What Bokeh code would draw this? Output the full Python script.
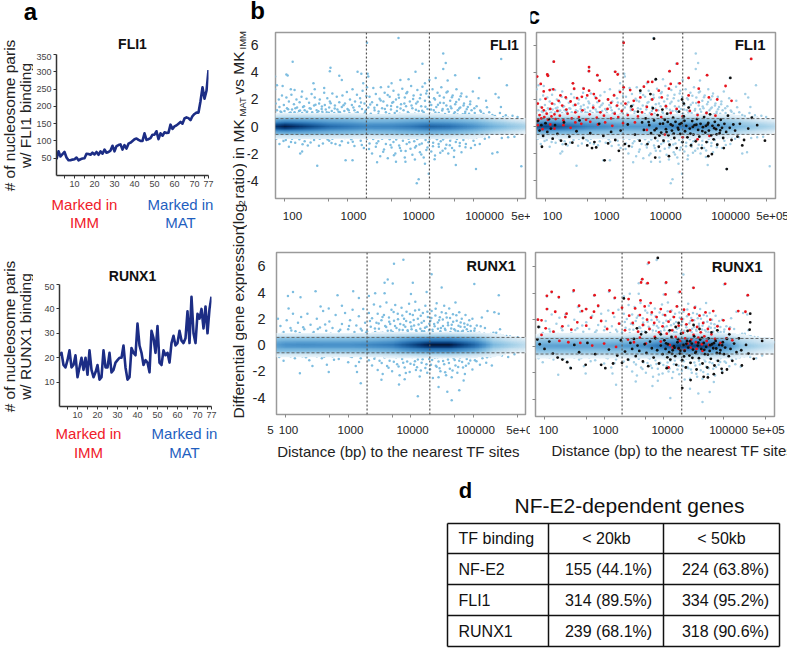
import numpy as np
from bokeh.plotting import figure
from bokeh.layouts import row, column
from bokeh.models import Range1d, FixedTicker, Label, Span, LinearColorMapper, Spacer
from bokeh.embed import file_html
from bokeh.resources import INLINE
from bokeh.core.properties import value

FONT = "Liberation Sans"

# ---------- panel a ----------
POSITION = list(range(1, 78))
FLI1_PAIRS = [47,70,55,62,68,52,44,44,46,47,52,44,47,49,50,63,62,60,66,61,68,60,70,63,75,66,68,72,86,70,85,88,90,75,88,78,92,
              95,100,105,107,103,100,100,122,103,105,108,118,118,128,105,122,115,125,123,124,147,135,142,145,150,155,150,165,168,166,160,172,178,182,182,215,255,222,245,305]
RUNX1_PAIRS = [21,22,17,16,19,23,16,17,21,12,16,20,15,20,13,23,15,12,14,17,11,12,23,16,16,22,14,15,18,19,
               20,20,25,16,11,12,24,22,21,34,25,22,17,19,18,14,31,28,22,33,18,17,23,21,22,18,26,29,25,26,
               31,27,26,28,39,26,45,30,26,38,36,40,32,41,30,40,45]
POS_TICKS = [5,10,15,20,25,30,35,40,45,50,55,60,65,70,75,77]
POS_LABELS = ["","10","","20","","30","","40","","50","","60","","70","","77"]

# ---------- panels b, c ----------
DIST_TICKS = [100,500,1000,5000,10000,50000,100000,500000]
DIST_LABELS = ["100","1000","10000","100000","5e+05"]
LOGFC_TICKS = [-4,-2,0,2,4,6]
WINDOWS = [2000,20000]
FC_CUT = [-0.585,0.585]

# smoothed density of the gene cloud: rows = log2 ratio, columns = log10 distance
DENS_LOGX = [1.85,2.0,2.3,2.7,3.0,3.3,3.7,4.0,4.3,4.6,5.0,5.3,5.6,5.85]
DENS_Y = [-1.0,-.7,-.55,-.3,-.15,0,.15,.3,.55,.7,1.0]
FLI1_DENS = [
 [0,0,0,0,0,0,0,0,0,0,0,0,0,0],
 [.04,.04,.05,.04,.04,.03,.04,.05,.05,.04,.02,0,0,0],
 [.20,.22,.22,.20,.18,.16,.17,.19,.21,.19,.13,.06,.02,0],
 [.40,.45,.40,.32,.29,.25,.26,.30,.33,.30,.22,.13,.07,.03],
 [.68,.78,.65,.48,.43,.37,.38,.42,.50,.46,.32,.20,.13,.08],
 [.85,.95,.80,.58,.50,.43,.44,.50,.62,.55,.38,.25,.16,.10],
 [.68,.78,.65,.48,.43,.37,.38,.42,.50,.46,.32,.20,.13,.08],
 [.42,.50,.45,.35,.32,.27,.28,.32,.35,.32,.24,.15,.08,.04],
 [.24,.27,.26,.24,.22,.18,.19,.21,.23,.21,.15,.07,.02,.01],
 [.06,.07,.08,.07,.07,.05,.05,.06,.06,.05,.04,.01,0,0],
 [0,0,0,0,0,0,0,0,0,0,0,0,0,0]]
RUNX1_DENS = [
 [0,0,0,0,0,0,0,0,0,0,0,0,0,0],
 [.03,.03,.03,.03,.03,.04,.06,.08,.10,.10,.06,.02,0,0],
 [.15,.16,.16,.16,.16,.17,.21,.28,.34,.34,.23,.07,.02,.01],
 [.24,.25,.25,.25,.25,.26,.31,.43,.53,.53,.36,.12,.05,.03],
 [.30,.34,.35,.34,.34,.36,.42,.62,.82,.82,.52,.18,.10,.05],
 [.33,.38,.40,.38,.38,.42,.50,.72,.98,.98,.60,.22,.12,.06],
 [.30,.34,.35,.34,.34,.36,.42,.62,.82,.82,.52,.18,.10,.05],
 [.24,.26,.26,.26,.26,.27,.32,.45,.55,.55,.38,.13,.06,.03],
 [.16,.17,.17,.17,.17,.18,.22,.30,.36,.36,.25,.08,.03,.01],
 [.03,.04,.04,.04,.04,.05,.07,.09,.11,.11,.07,.02,0,0],
 [0,0,0,0,0,0,0,0,0,0,0,0,0,0]]

# (log10 distance, log2 ratio)
FLI1_BLUE = [(1.85,3.7),(1.85,2.75),(1.88,3.05),(1.97,3.0),(2.03,3.85),(2.05,3.78),(2.13,4.8),(2.10,2.75),(2.16,2.7),(2.28,2.6),(2.46,3.2),(2.48,2.75),(2.63,2.85),(2.73,4.35),(2.72,4.1),(2.87,3.75),(2.91,3.45),(3.16,4.05),(3.22,3.9),(3.31,6.2),(3.32,3.9),(3.33,3.7),(3.25,3.2),(3.31,2.9),(3.81,6.55),(4.08,4.05),(4.19,4.65),(4.52,5.4),(4.56,4.7),(4.52,4.25),(4.71,3.8),(5.09,3.6),(5.44,5.0),(5.53,3.05),(4.4,3.6),(4.3,3.45),(4.23,3.2),(4.59,3.4),(3.84,3.45),(3.97,3.5),(3.7,3.2),
 (2.52,-2.9),(4.1,-4.2),(4.13,-3.9),(4.29,-3.5),(5.76,-2.95),(5.04,-3.15),(4.72,-2.85),(3.47,-2.65),(3.77,-2.6),(3.92,-2.6),(2.97,-2.5),(3.08,-2.5),(2.28,-1.85),(2.25,-2.0),(4.23,-2.75),(4.07,-2.45),
 (1.86,1.7),(1.88,1.2),(1.91,2.0),(1.92,1.45),(1.95,1.05),(1.96,2.3),(1.99,1.6),(2.0,1.15),(2.03,2.15),(2.04,1.35),(2.07,1.85),(2.08,1.0),(2.11,2.35),(2.12,1.25),(2.15,1.65),(2.16,1.05),(2.19,2.0),(2.2,1.4),(2.23,1.15),(2.24,1.8),(2.27,2.2),(2.28,1.0),(2.31,1.5),(2.32,1.2),(2.35,2.05),(2.36,1.1),(2.39,1.75),(2.4,1.35),(2.43,2.4),(2.44,1.05),(2.47,1.55),(2.48,2.15),(2.51,1.2),(2.52,1.0),(2.55,1.7),(2.56,2.0),(2.59,1.3),(2.6,1.1),(2.63,2.5),(2.64,1.6),(2.67,1.05),(2.68,2.1),(2.71,1.4),(2.72,1.85),(2.75,1.15),(2.76,2.45),(2.79,1.0),(2.8,1.55),(2.83,2.2),(2.84,1.25),(2.87,1.8),(2.88,1.05),(2.91,1.45),(2.92,2.3),(2.95,1.15),(2.96,1.7),(2.99,2.55),(3.0,1.3),(3.03,1.0),(3.04,2.0),(3.07,1.6),(3.08,2.75),(3.11,1.2),(3.12,1.85),(3.15,2.35),(3.16,1.05),(3.19,1.5),(3.2,2.1),(3.23,1.3),(3.24,2.65),(3.27,1.7),(3.28,1.05),(3.3,2.25),
 (3.33,1.4),(3.35,2.2),(3.37,0.95),(3.39,1.8),(3.41,2.85),(3.43,1.2),(3.45,2.4),(3.47,1.6),(3.49,0.9),(3.51,2.05),(3.53,2.9),(3.55,1.35),(3.57,1.85),(3.59,2.5),(3.61,1.05),(3.63,1.55),(3.65,2.95),(3.67,2.2),(3.69,1.25),(3.71,1.75),(3.73,2.65),(3.75,1.0),(3.77,2.0),(3.79,1.45),(3.81,2.35),(3.83,0.95),(3.85,1.65),(3.87,2.8),(3.89,1.2),(3.91,2.15),(3.93,1.5),(3.95,2.55),(3.97,1.0),(3.99,1.85),(4.01,3.0),(4.03,1.35),(4.05,2.3),(4.07,0.95),(4.09,1.7),(4.11,2.7),(4.13,1.15),(4.15,2.1),(4.17,1.5),(4.19,2.95),(4.21,1.05),(4.23,1.9),(4.25,2.45),(4.27,1.3),(4.29,2.2),(4.31,0.95),(4.33,1.6),(4.35,2.75),(4.37,1.2),(4.39,2.0),(4.41,1.45),(4.43,2.5),(4.45,1.0),(4.47,1.75),(4.49,2.9),(4.51,1.3),(4.53,2.15),(4.55,0.9),(4.57,1.55),(4.59,2.6),(4.61,1.1),(4.63,1.9),(4.65,1.35),(4.67,2.3),(4.69,0.95),(4.71,1.65),(4.73,2.75),(4.75,1.2),(4.77,2.0),(4.79,1.4),(4.81,2.45),(4.83,0.9),(4.85,1.7),(4.87,1.1),(4.89,2.2),(4.91,1.45),(4.93,0.95),(4.95,1.85),(4.97,1.2),(4.99,2.6),(5.02,1.0),(5.05,1.5),(5.08,2.1),(5.12,1.1),(5.16,0.95),(5.2,1.9),(5.25,1.05),(5.3,0.85),(5.35,2.4),(5.4,2.15),(5.42,1.0),(5.47,0.7),(5.55,0.65),(5.62,0.8),(5.7,0.7),
 (1.87,-0.9),(1.92,-1.3),(1.97,-0.85),(2.02,-1.0),(2.07,-1.5),(2.12,-0.9),(2.17,-1.2),(2.22,-0.8),(2.32,-1.1),(2.37,-1.4),(2.42,-0.85),(2.47,-1.0),(2.56,-0.9),(2.61,-1.25),(2.66,-0.8),(2.71,-1.05),(2.76,-0.9),(2.81,-1.3),(2.86,-0.8),(2.91,-1.1),(2.96,-0.85),(3.01,-1.2),(3.06,-0.95),(3.11,-1.45),(3.16,-0.8),(3.21,-1.05),(3.26,-1.6),(3.31,-0.9),(3.35,-1.25),(3.39,-2.0),(3.42,-0.85),(3.45,-1.5),(3.49,-1.1),(3.52,-2.2),(3.55,-0.9),(3.58,-1.7),(3.61,-1.3),(3.64,-2.35),(3.67,-0.95),(3.7,-1.55),(3.73,-1.15),(3.76,-2.0),(3.79,-0.85),(3.82,-1.4),(3.85,-1.8),(3.88,-1.05),(3.91,-2.3),(3.94,-1.3),(3.97,-0.9),(4.0,-1.65),(4.03,-2.1),(4.06,-1.1),(4.09,-1.45),(4.12,-0.85),(4.15,-1.9),(4.18,-1.25),(4.21,-2.3),(4.24,-1.0),(4.27,-1.55),(4.3,-0.9),(4.33,-1.85),(4.36,-1.2),(4.39,-2.15),(4.42,-0.95),(4.45,-1.5),(4.48,-1.1),(4.51,-1.8),(4.54,-0.85),(4.57,-1.35),(4.6,-2.0),(4.63,-1.05),(4.66,-1.6),(4.69,-2.25),(4.72,-1.15),(4.75,-0.85),(4.78,-1.45),(4.81,-1.9),(4.84,-1.0),(4.88,-1.3),(4.92,-0.85),(4.96,-1.6),(5.0,-1.05),(5.05,-0.8),(5.1,-1.3),(5.18,-0.9),(5.3,-2.0),(5.38,-1.9),(5.45,-0.85),(5.55,-0.8),(5.65,-0.75)]
FLI1_BLUE_MORE = [(1.893,0.83),(1.937,1.11),(1.958,0.74),(2.013,0.92),(2.058,1.27),(2.071,0.71),(2.097,1.03),(2.138,0.86),(2.174,1.36),(2.186,0.78),(2.211,0.95),(2.247,1.18),(2.263,0.69),(2.294,1.44),(2.339,0.84),(2.353,1.07),(2.378,0.72),(2.417,1.31),(2.426,0.91),(2.459,0.76),(2.492,1.62),(2.507,0.87),(2.538,1.13),(2.571,0.73),(2.594,1.48),(2.616,0.94),(2.655,1.26),(2.687,0.77),(2.704,1.02),(2.733,1.73),(2.768,0.82),(2.797,1.34),(2.823,0.71),(2.858,1.09),(2.893,0.89),(2.937,1.58),(2.974,0.75),(3.018,1.21),(3.053,0.83),(3.094,1.41),(3.127,0.96),(3.172,0.74),(3.214,1.77),(3.253,0.88),(3.287,1.16),(3.322,0.72),(3.361,1.63),(3.384,0.86),(3.427,1.38),(3.462,0.78),(3.494,1.12),(3.527,1.93),(3.563,0.84),(3.594,1.29),(3.638,2.34),(3.664,0.93),(3.692,1.52),(3.727,1.81),(3.746,0.77),(3.784,1.14),(3.817,2.12),(3.842,1.33),(3.876,0.85),(3.903,1.71),(3.936,2.47),(3.958,1.08),(3.984,0.79),(4.017,1.56),(4.042,2.03),(4.063,0.87),(4.087,1.24),(4.114,1.83),(4.138,0.76),(4.163,2.36),(4.186,1.17),(4.212,0.83),(4.238,1.47),(4.261,2.64),(4.284,0.91),(4.307,1.79),(4.326,1.26),(4.352,0.74),(4.374,2.09),(4.396,1.03),(4.418,0.86),(4.437,1.61),(4.463,2.28),(4.486,0.78),(4.504,1.19),(4.527,1.74),(4.548,0.93),(4.572,2.52),(4.593,1.28),(4.614,0.81),(4.637,1.49),(4.658,2.17),(4.682,0.75),(4.704,1.06),(4.726,1.82),(4.748,0.88),(4.772,1.33),(4.796,2.24),(4.817,0.72),(4.842,1.55),(4.867,0.97),(4.893,1.27),(4.917,0.79),(4.946,1.64),(4.972,0.84),(5.014,1.36),(5.063,0.76),(5.107,1.18),(5.153,0.82),(5.214,1.42),(5.273,0.71),(5.342,0.78),(5.436,1.45),(5.513,0.83),
 (1.913,-0.74),(1.984,-1.07),(2.053,-0.71),(2.103,-1.14),(2.164,-0.73),(2.236,-0.94),(2.287,-1.32),(2.346,-0.76),(2.414,-1.18),(2.483,-0.72),(2.547,-1.42),(2.612,-0.78),(2.684,-0.96),(2.747,-1.22),(2.813,-0.74),(2.879,-1.38),(2.943,-0.82),(3.027,-0.73),(3.084,-1.13),(3.146,-0.77),(3.227,-1.37),(3.284,-0.74),(3.342,-1.66),(3.407,-0.93),(3.463,-1.24),(3.514,-0.78),(3.567,-1.87),(3.623,-0.82),(3.683,-1.36),(3.738,-2.13),(3.773,-0.96),(3.833,-1.59),(3.867,-0.76),(3.923,-1.82),(3.982,-1.17),(4.014,-0.74),(4.072,-1.56),(4.107,-0.92),(4.143,-1.33),(4.172,-2.07),(4.207,-0.79),(4.252,-1.73),(4.286,-1.16),(4.322,-0.83),(4.357,-1.46),(4.383,-2.43),(4.412,-0.76),(4.447,-1.29),(4.473,-1.94),(4.517,-0.97),(4.553,-1.63),(4.586,-0.74),(4.624,-1.38),(4.652,-0.86),(4.694,-1.77),(4.738,-0.93),(4.783,-1.22),(4.832,-0.77),(4.873,-1.54),(4.937,-0.83),(5.023,-1.36),(5.126,-0.74),(5.247,-0.79)]

RUNX1_BLUE = [(3.88,6.5),(3.73,6.2),(3.63,5.0),(3.58,4.75),(3.71,4.7),(4.03,4.75),(4.33,5.4),(4.49,4.4),(5.01,4.65),(5.4,3.8),(4.25,4.05),(4.0,3.9),(2.48,4.1),(3.08,4.1),(2.12,4.05),(2.04,3.75),(2.24,3.65),(2.83,3.8),(3.17,3.6),(3.33,3.75),(3.43,3.95),(3.58,3.95),(2.56,2.95),(2.9,3.0),(2.69,2.8),
 (4.11,-3.9),(4.65,-4.2),(4.58,-3.55),(4.77,-3.45),(3.81,-3.0),(3.2,-2.9),(3.9,-2.6),(3.53,-2.65),(2.23,-2.15),(2.69,-2.05),(3.14,-2.05),(4.44,-2.45),(5.29,-1.55),(4.44,-3.2),(4.84,-2.7),
 (1.88,2.0),(1.92,1.45),(1.97,1.0),(2.02,1.9),(2.05,2.8),(2.08,1.3),(2.12,2.4),(2.16,1.05),(2.2,1.7),(2.25,2.15),(2.3,1.2),(2.35,2.4),(2.4,1.55),(2.45,1.0),(2.5,2.0),(2.55,1.35),(2.6,2.6),(2.65,1.1),(2.7,1.8),(2.75,1.3),(2.8,2.3),(2.85,1.05),(2.9,1.6),(2.95,2.45),(3.0,1.2),(3.03,1.9),(3.07,2.7),(3.1,1.0),(3.13,1.5),(3.17,2.2),(3.2,1.25),(3.24,2.75),(3.27,1.7),(3.3,1.05),(3.33,2.45),(3.36,1.4),(3.38,2.05),(3.41,3.1),(3.43,1.0),(3.45,1.7),(3.47,2.4),(3.49,1.25),(3.51,2.95),(3.53,1.9),(3.55,0.95),(3.57,2.3),(3.59,1.45),(3.61,3.25),(3.63,1.1),(3.65,2.1),(3.67,1.6),(3.69,2.7),(3.71,1.0),(3.73,1.85),(3.75,3.05),(3.77,1.3),(3.79,2.4),(3.81,0.95),(3.83,1.6),(3.85,2.85),(3.87,1.15),(3.89,2.0),(3.91,1.4),(3.93,2.55),(3.95,1.0),(3.97,3.15),(3.99,1.75),(4.01,1.2),(4.03,2.3),(4.05,1.5),(4.07,3.3),(4.09,1.0),(4.11,2.0),(4.13,2.7),(4.15,1.25),(4.17,1.7),(4.19,2.45),(4.21,1.05),(4.23,3.0),(4.25,1.4),(4.27,2.15),(4.29,1.15),(4.31,1.85),(4.33,2.6),(4.35,1.0),(4.37,1.6),(4.39,2.25),(4.41,3.2),(4.43,1.25),(4.45,1.9),(4.47,1.05),(4.49,2.5),(4.51,1.45),(4.53,3.0),(4.55,1.15),(4.57,2.1),(4.59,1.7),(4.61,2.8),(4.63,1.0),(4.65,1.55),(4.67,2.35),(4.69,1.2),(4.71,3.25),(4.73,1.85),(4.75,1.05),(4.77,2.5),(4.79,1.4),(4.81,2.0),(4.83,1.1),(4.85,1.65),(4.87,2.3),(4.89,1.2),(4.91,1.0),(4.93,1.9),(4.95,1.45),(4.98,2.0),(5.01,1.1),(5.05,1.5),(5.09,0.95),(5.13,2.1),(5.18,1.3),(5.22,2.6),(5.27,0.85),(5.33,2.5),(5.36,0.95),(5.4,2.4),(5.42,1.2),(5.46,0.75),(5.52,0.7),(5.58,0.65),(5.7,0.6),(5.78,0.4),(5.85,0.3),
 (1.9,-0.9),(1.97,-1.2),(2.04,-0.8),(2.15,-1.0),(2.27,-0.85),(2.38,-1.15),(2.43,-1.6),(2.5,-0.85),(2.58,-1.0),(2.66,-1.5),(2.75,-0.85),(2.85,-1.05),(2.93,-0.8),(3.0,-1.3),(3.06,-0.9),(3.12,-1.6),(3.2,-1.0),(3.27,-0.8),(3.33,-1.15),(3.38,-1.55),(3.43,-0.85),(3.47,-1.9),(3.5,-1.2),(3.55,-2.2),(3.58,-0.95),(3.62,-1.6),(3.66,-1.2),(3.7,-2.0),(3.74,-0.85),(3.78,-1.45),(3.82,-2.3),(3.86,-1.05),(3.9,-1.7),(3.94,-1.25),(3.98,-2.05),(4.02,-0.9),(4.05,-1.5),(4.08,-1.9),(4.11,-1.1),(4.14,-2.4),(4.17,-1.35),(4.2,-0.85),(4.23,-1.75),(4.26,-2.1),(4.29,-1.05),(4.32,-1.5),(4.35,-2.5),(4.38,-0.95),(4.41,-1.65),(4.44,-1.25),(4.47,-2.0),(4.5,-0.9),(4.53,-1.45),(4.56,-2.3),(4.59,-1.1),(4.62,-1.8),(4.65,-2.45),(4.68,-1.0),(4.71,-1.55),(4.74,-2.1),(4.77,-1.2),(4.8,-0.85),(4.83,-1.7),(4.86,-2.2),(4.89,-1.05),(4.92,-1.4),(4.95,-0.9),(4.98,-1.85),(5.02,-1.15),(5.06,-0.8),(5.1,-1.5),(5.14,-1.0),(5.2,-1.35),(5.27,-0.85),(5.35,-0.75),(5.45,-0.8),(5.55,-0.9),(5.65,-0.7)]
RUNX1_BLUE_MORE = [(1.936,0.84),(2.017,0.73),(2.094,1.12),(2.143,0.79),(2.227,0.92),(2.283,1.37),(2.364,0.76),(2.437,0.88),(2.516,1.23),(2.584,0.74),(2.633,1.57),(2.721,0.86),(2.792,0.71),(2.873,1.18),(2.934,0.79),(3.013,1.46),(3.082,0.83),(3.153,0.74),(3.219,1.12),(3.283,0.93),(3.347,1.83),(3.392,0.81),(3.426,1.27),(3.463,0.74),(3.486,1.64),(3.522,0.93),(3.547,2.14),(3.574,0.77),(3.606,1.38),(3.628,0.86),(3.654,1.79),(3.683,1.12),(3.706,0.73),(3.724,2.52),(3.747,1.46),(3.768,0.84),(3.794,1.97),(3.816,1.18),(3.839,0.76),(3.862,2.26),(3.884,1.53),(3.903,0.91),(3.924,1.84),(3.947,1.13),(3.962,0.74),(3.984,2.37),(4.006,1.41),(4.023,0.82),(4.044,1.92),(4.066,2.63),(4.082,1.14),(4.104,0.73),(4.122,1.58),(4.138,0.88),(4.156,2.23),(4.174,1.07),(4.193,0.76),(4.207,1.83),(4.224,1.32),(4.243,0.84),(4.262,2.54),(4.278,0.94),(4.294,1.62),(4.313,0.73),(4.327,2.06),(4.344,1.17),(4.362,0.82),(4.378,1.44),(4.394,2.77),(4.412,0.91),(4.428,1.73),(4.443,0.75),(4.461,2.13),(4.477,1.31),(4.493,0.86),(4.508,1.96),(4.524,0.72),(4.542,1.24),(4.558,2.43),(4.574,0.93),(4.592,1.52),(4.608,0.79),(4.624,2.07),(4.642,1.27),(4.657,0.83),(4.673,1.78),(4.692,0.74),(4.708,1.12),(4.724,2.28),(4.742,0.88),(4.758,1.47),(4.776,0.76),(4.793,1.72),(4.812,1.03),(4.834,0.82),(4.856,1.38),(4.878,0.73),(4.903,1.56),(4.927,0.86),(4.954,1.08),(4.983,0.74),(5.017,1.27),(5.064,0.79),(5.112,1.44),(5.167,0.86),(5.236,0.73),(5.314,0.94),(5.423,0.78),
 (1.962,-0.73),(2.083,-0.84),(2.206,-0.72),(2.327,-0.93),(2.462,-0.74),(2.617,-0.88),(2.774,-1.12),(2.904,-0.73),(3.038,-0.86),(3.173,-1.28),(3.304,-0.76),(3.417,-1.04),(3.484,-0.73),(3.534,-1.37),(3.593,-0.83),(3.643,-1.72),(3.682,-0.74),(3.727,-1.26),(3.764,-0.92),(3.803,-1.63),(3.842,-0.77),(3.877,-1.34),(3.918,-2.12),(3.952,-0.86),(3.993,-1.42),(4.033,-0.73),(4.064,-1.23),(4.097,-1.68),(4.128,-0.82),(4.157,-1.94),(4.186,-1.07),(4.216,-0.74),(4.247,-1.46),(4.276,-0.88),(4.304,-1.84),(4.338,-1.13),(4.367,-0.76),(4.397,-1.57),(4.423,-0.93),(4.456,-1.76),(4.484,-0.79),(4.513,-1.22),(4.546,-2.07),(4.577,-0.84),(4.606,-1.37),(4.634,-0.74),(4.663,-1.93),(4.697,-1.14),(4.727,-0.82),(4.753,-1.66),(4.784,-0.94),(4.816,-1.28),(4.847,-0.76),(4.876,-1.57),(4.912,-0.87),(4.946,-1.18),(4.993,-0.73),(5.044,-1.24),(5.123,-0.79),(5.213,-0.92)]

FLI1_RED = [(2.14,4.8),(2.03,3.85),(2.04,3.75),(1.86,3.7),(2.73,4.4),(2.73,4.1),(2.87,3.8),(2.91,3.4),(3.17,4.05),(3.21,3.85),(3.31,6.2),(3.31,2.9),(4.08,4.1),(4.21,4.65),(5.45,5.0),(4.4,3.6),(4.25,3.2),(4.1,3.15),(4.71,3.8),(3.79,3.3),(3.65,2.95),(3.72,3.3),(3.42,2.7),(2.46,3.2),(2.48,2.8),(2.13,2.75),(2.07,2.7),(1.92,3.15),(1.97,2.6),(2.25,2.3),(2.64,2.8),(2.73,2.65),(2.81,2.4),(2.53,2.1),(2.61,2.2),(2.7,2.3),(2.34,2.15),(2.0,2.05),(2.22,1.9),(1.87,1.7),(2.11,1.7),(1.94,1.4),(1.97,1.2),
 (4.57,2.8),(4.74,2.15),(4.57,1.8),(4.88,2.0),(5.12,1.9),(5.02,3.0),(4.4,2.3),(4.07,2.8),(3.9,2.65),(3.59,2.15),(3.79,2.0),(3.95,2.15),(3.34,1.7),(3.48,1.9),(2.85,2.1),(2.9,1.9),(3.05,2.0),(3.1,1.75),(3.15,2.3),(3.2,1.55),(3.25,2.55),(2.5,1.6),(2.42,1.85),(2.35,1.25),(2.28,1.55),(2.2,1.15),(2.15,0.9),(2.08,1.3),(2.02,0.95),(1.9,0.85),(1.88,0.45),(1.93,0.6),(1.98,0.7),(2.04,0.5),(2.1,0.75),(2.17,0.55),(2.24,0.8),(2.3,0.45),(2.37,0.95),(2.44,0.6),(2.5,1.05),(2.56,0.7),(2.62,1.2),(2.68,0.5),(2.74,0.9),(2.8,1.4),(2.86,0.65),(2.92,1.05),(2.98,0.8),(3.04,1.3),(3.1,0.6),(3.16,0.95),(3.22,0.7),(3.28,1.15),(3.38,0.85),(3.46,1.25),(3.55,0.75),(3.62,1.05),(3.7,1.45),(3.78,0.9),(3.86,1.2),(3.94,0.7),(4.02,1.5),(4.1,1.0),(4.2,1.3),(4.3,0.75),(4.42,1.15),(4.55,0.85),(4.7,1.0),(4.85,0.8),
 (1.87,0.1),(1.95,-0.2),(2.08,0.15),(2.15,-0.15),(2.3,0.1),(2.42,-0.1),(2.5,0.3),(2.6,0.2),(2.75,0.35),(2.88,0.15),(3.0,0.3),(3.12,0.05),(3.3,0.25),(3.5,0.3),(3.7,-0.25),(4.0,-0.6),(4.3,-0.8),(4.55,-0.95),(4.75,-0.7)]

FLI1_BLACK = [(3.82,6.5),(2.99,-2.5),(5.04,-3.15),(5.1,3.6),(3.85,3.5),(3.59,2.65),(3.76,2.4),(4.29,2.0),(4.32,1.7),(3.84,-2.3),(4.07,-2.2),(4.79,-2.05),(4.73,-2.2),(4.99,-1.6),(1.94,-1.5),(2.78,-1.6),(3.23,-1.8),(3.4,-1.45),(2.34,-1.3),(5.46,0.65),(5.68,-1.05),(5.3,-1.4),(5.33,-1.0),
 (1.87,0.4),(1.9,-0.3),(1.93,0.1),(1.96,-0.7),(2.0,0.25),(2.03,-0.4),(2.06,0.55),(2.09,-0.15),(2.12,-0.9),(2.16,0.1),(2.2,-0.55),(2.26,-1.05),(2.31,0.3),(2.4,-0.75),(2.45,-1.2),(2.52,-0.35),(2.57,0.45),(2.63,-0.85),(2.7,-1.4),(2.75,-0.5),(2.82,-1.15),(2.85,-1.55),(2.9,0.2),(2.97,-0.7),(3.05,-1.25),(3.1,-0.4),(3.17,-1.0),(3.26,-0.3),(3.33,-1.3),(3.38,0.15),(3.44,1.5),(3.5,-0.6),(3.55,1.1),(3.58,-1.05),(3.62,0.3),(3.65,-0.25),(3.68,0.6),(3.71,-1.3),(3.74,0.1),(3.77,-0.5),(3.8,1.35),(3.82,0.45),(3.84,-0.85),(3.86,-0.15),(3.88,0.85),(3.9,-1.5),(3.92,0.2),(3.94,-0.45),(3.96,1.25),(3.98,-1.05),(4.0,0.5),(4.02,-0.2),(4.04,0.95),(4.06,-0.65),(4.08,-1.35),(4.1,0.15),(4.12,-0.3),(4.14,0.65),(4.16,-0.85),(4.18,0.35),(4.2,-1.6),(4.22,-0.1),(4.24,1.1),(4.26,-0.55),(4.28,0.25),(4.3,-1.15),(4.32,0.75),(4.34,-0.35),(4.36,0.05),(4.38,-0.8),(4.4,1.4),(4.42,-0.15),(4.44,-1.4),(4.46,0.4),(4.48,-0.6),(4.5,0.1),(4.52,-1.1),(4.54,0.55),(4.56,-0.25),(4.58,-0.75),(4.6,0.2),(4.62,-1.6),(4.64,-0.05),(4.66,0.7),(4.68,-0.45),(4.7,-1.15),(4.72,0.15),(4.74,-0.3),(4.76,0.9),(4.78,-0.65),(4.8,0.05),(4.82,-0.95),(4.84,0.35),(4.86,-0.2),(4.88,-1.35),(4.9,0.1),(4.92,-0.5),(4.94,0.5),(4.96,-0.1),(4.98,-0.85),(5.0,0.2),(5.03,-0.4),(5.06,0.8),(5.09,-0.1),(5.12,-1.0),(5.15,0.15),(5.18,-0.3),(5.22,-0.75),(5.26,0.2),(5.4,-0.15),(5.55,0.1),
 (3.73,0.33),(3.83,-0.27),(3.97,0.21),(4.03,-0.41),(4.13,0.07),(4.23,-0.23),(4.33,0.42),(4.43,-0.52),(4.53,0.13),(4.63,-0.34),(4.73,0.26),(4.83,-0.12),(4.93,-0.28),(4.15,-0.53),(4.25,0.17),(4.47,-0.03),(4.69,0.04),(4.87,-0.58),(3.91,-0.67),(4.05,0.34)]

RUNX1_RED = [(3.75,6.3),(3.64,5.05),(3.62,4.8),(3.73,4.75),(4.04,4.8),(5.03,4.7),(4.5,4.4),(4.27,4.1),(4.03,3.9),(5.41,3.85),(2.04,3.8),(2.12,4.1),(2.49,4.2),(2.24,3.7),(2.84,3.85),(3.09,4.2),(3.18,3.65),(3.41,3.55),(3.61,3.45),(3.78,3.25),(2.58,3.05),(2.9,3.05),(5.25,2.65),(5.37,2.6),(2.04,2.8),(2.18,2.6),(1.89,2.0),(1.95,1.95),(2.37,2.45),(2.35,2.2),(2.7,2.8),(2.63,2.65),(2.83,2.6),(2.02,1.35),
 (2.15,1.1),(2.3,1.5),(2.45,1.25),(2.55,1.8),(2.7,1.55),(2.78,2.15),(2.95,1.9),(3.05,1.3),(3.15,2.5),(3.25,1.7),(3.3,2.9),(3.35,1.2),(3.42,2.3),(3.48,1.75),(3.52,2.85),(3.57,1.1),(3.6,2.35),(3.65,1.6),(3.68,3.0),(3.72,2.0),(3.76,1.3),(3.8,2.55),(3.84,1.75),(3.88,2.2),(3.92,1.05),(3.95,2.8),(3.98,1.5),(4.02,2.35),(4.05,0.95),(4.08,1.85),(4.11,2.6),(4.14,1.2),(4.17,2.2),(4.2,0.7),(4.22,3.0),(4.25,1.55),(4.27,0.4),(4.3,2.05),(4.32,1.0),(4.34,2.75),(4.36,0.6),(4.38,1.65),(4.4,0.2),(4.42,2.4),(4.44,1.2),(4.46,0.5),(4.48,1.95),(4.5,0.85),(4.52,2.9),(4.54,0.3),(4.56,1.45),(4.58,0.65),(4.6,2.3),(4.62,1.05),(4.64,0.15),(4.66,1.75),(4.68,0.75),(4.7,2.55),(4.72,0.4),(4.74,1.3),(4.76,0.1),(4.78,2.0),(4.8,0.9),(4.83,2.65),(4.86,0.55),(4.9,1.5),(4.95,0.25),(5.0,1.95),(5.05,0.6),(5.1,1.3),(5.15,0.45),
 (3.4,0.5),(3.5,0.3),(3.6,0.65),(3.7,0.2),(3.85,0.7),(3.95,0.35),(4.1,0.1),(4.15,-0.1),(4.25,-0.2),(4.35,-0.3),(4.45,-0.1),(4.55,-0.2),(4.65,-0.35),(2.4,0.3),(2.6,0.25),(2.8,0.05),(3.0,0.2),(3.2,-0.05),(2.25,0.4),(1.95,0.85),(4.08,-1.6)]

RUNX1_BLACK = [(3.9,6.65),(3.33,3.6),(5.45,2.45),(5.45,1.8),(5.44,1.25),(4.31,-3.15),(4.45,-2.55),(4.67,-2.3),(4.74,-2.35),(4.98,-2.0),(5.06,-1.75),(4.84,-2.1),(2.44,-1.65),(2.69,-1.4),(3.02,-1.65),(3.3,-1.25),(1.88,0.5),(1.9,1.45),(5.51,-0.95),(5.65,0.4),(5.31,-1.45),
 (1.92,0.15),(2.0,-0.2),(2.08,0.35),(2.14,-0.55),(2.22,-0.85),(2.3,-1.0),(2.38,-1.2),(2.5,0.1),(2.58,-0.45),(2.72,0.25),(2.85,-0.6),(2.95,-1.4),(3.08,-0.25),(3.15,-1.3),(3.22,-0.7),(3.28,0.45),(3.35,-0.4),(3.4,-1.0),(3.44,0.25),(3.47,-0.2),(3.5,0.55),(3.53,-0.75),(3.56,0.05),(3.59,-0.35),(3.62,0.9),(3.65,-1.15),(3.68,0.15),(3.71,-0.5),(3.74,-1.5),(3.77,0.35),(3.8,-0.15),(3.83,-0.85),(3.86,0.6),(3.89,-0.3),(3.92,-1.3),(3.95,0.05),(3.98,-0.6),(4.01,0.45),(4.03,-0.2),(4.05,-1.65),(4.07,0.15),(4.09,-0.45),(4.11,-1.0),(4.13,0.7),(4.15,-0.3),(4.17,0.0),(4.19,-0.75),(4.21,-1.4),(4.23,0.3),(4.25,-0.15),(4.27,-0.55),(4.29,0.95),(4.31,-1.05),(4.33,0.1),(4.35,-0.35),(4.37,-1.6),(4.39,0.4),(4.41,-0.1),(4.43,-0.7),(4.45,-1.25),(4.47,0.2),(4.49,-0.25),(4.51,0.75),(4.53,-0.5),(4.55,-1.75),(4.57,0.05),(4.59,-0.9),(4.61,0.5),(4.63,-0.2),(4.65,-1.3),(4.67,0.25),(4.69,-0.6),(4.71,-0.05),(4.73,-1.6),(4.75,0.6),(4.77,-0.35),(4.79,-0.95),(4.81,0.15),(4.83,-0.15),(4.85,-1.45),(4.87,0.4),(4.89,-0.5),(4.91,-1.1),(4.93,0.1),(4.95,-0.3),(4.97,-1.7),(4.99,0.3),(5.01,-0.6),(5.03,-0.1),(5.06,0.55),(5.09,-0.75),(5.12,-0.2),(5.15,-1.1),(5.18,0.2),(5.22,-0.45),(5.26,0.6),(5.3,-0.3),(5.38,0.1),(5.42,-0.55),(4.1,1.2),(4.2,1.45),(4.4,1.15),(4.6,1.3),(4.8,1.05),(4.25,1.75),(4.5,1.6),(3.95,0.9),(3.7,1.05),(3.55,1.35),(4.9,1.2),(5.1,0.9),
 (4.04,0.22),(4.14,-0.57),(4.24,0.53),(4.34,-0.77),(4.44,0.37),(4.54,-0.42),(4.64,0.63),(4.74,-0.63),(4.84,0.23),(4.94,-0.53),(4.06,-0.83),(4.18,-0.12),(4.28,-0.33),(4.38,0.18),(4.48,-0.87),(4.58,0.27),(4.68,-0.27),(4.78,0.08),(4.88,-0.17),(4.98,0.07)]

# ---------- panel d ----------
TABLE_HEAD = ["TF binding","< 20kb","< 50kb"]
TF_NAMES = ["NF-E2","FLI1","RUNX1"]
WITHIN_20KB = ["155 (44.1%)","314 (89.5%)","239 (68.1%)"]
WITHIN_50KB = ["224 (63.8%)","334 (95.2%)","318 (90.6%)"]

# ---------- drawing ----------
ANCHORS = [(0,"#e6f2f9"),(.03,"#cfe5f2"),(.1,"#a9d3ea"),(.2,"#7fbbe0"),(.35,"#4f97cd"),(.5,"#2f78b8"),(.7,"#11508f"),(.85,"#06306a"),(1,"#04142f")]
def hx(c): return [int(c[i:i+2],16) for i in (1,3,5)]
lv = [a[0] for a in ANCHORS]; rgb = np.array([hx(a[1]) for a in ANCHORS])
PALETTE = ["#%02x%02x%02x" % tuple(int(np.interp(t,lv,rgb[:,k])) for k in range(3)) for t in np.linspace(0,1,128)]

def strip(l, t, r, b):
    """A text-only figure that covers the page rectangle (l,t)-(r,b); its coordinates are page pixels."""
    s = figure(width=r-l, height=b-t, x_range=Range1d(l,r), y_range=Range1d(b,t), x_axis_type=None, y_axis_type=None,
               toolbar_location=None, output_backend="svg", min_border=0, outline_line_color=None, frame_align=False)
    s.grid.visible = False
    return s

def txt(s, x, y, text, size, color="#111111", bold=False, align="center", angle=0, baseline="middle"):
    s.text(x=[x], y=[y], text=[text], text_font=value(FONT), text_font_size=value(f"{size}px"), text_color=color,
           text_font_style="bold" if bold else "normal", text_align=align, text_baseline=baseline, angle=angle)

def make_fig(canvas, frame, xr, yr, logx=False):
    cl, ct, cr, cb = canvas
    fl, ft, fr, fb = frame
    p = figure(width=cr-cl, height=cb-ct, x_range=Range1d(*xr), y_range=Range1d(*yr),
               x_axis_type="log" if logx else "linear", toolbar_location=None, output_backend="svg", frame_align=False,
               min_border_left=fl-cl, min_border_right=cr-fr, min_border_top=ft-ct, min_border_bottom=cb-fb)
    p.grid.visible = False
    p.background_fill_color = "white"
    p.border_fill_color = "white"
    return p

def panel_a(canvas, frame, series, yr, yticks):
    p = make_fig(canvas, frame, (1,77), yr)
    p.outline_line_color = None
    p.line(POSITION, series, line_color="#1c2d85", line_width=2.6, line_join="round")
    for ax in (p.xaxis[0], p.yaxis[0]):
        ax.axis_line_color = "#333333"; ax.axis_line_width = 1.5
        ax.major_tick_line_color = "#333333"; ax.major_tick_out = 3; ax.major_tick_in = 0
        ax.minor_tick_line_color = None
        ax.major_label_text_font = FONT; ax.major_label_text_font_size = "9px"
        ax.major_label_text_color = "#444444"; ax.major_label_standoff = 2
    p.xaxis[0].ticker = FixedTicker(ticks=POS_TICKS)
    p.xaxis[0].major_label_overrides = dict(zip(POS_TICKS, POS_LABELS))
    p.yaxis[0].ticker = FixedTicker(ticks=yticks)
    return p

def density(p, table, scale):
    lx = np.linspace(DENS_LOGX[0], DENS_LOGX[-1], 320)
    yy = np.linspace(DENS_Y[0], DENS_Y[-1], 60)
    tab = np.array(table)*scale
    byx = np.array([np.interp(lx, DENS_LOGX, r) for r in tab])
    grid = np.array([np.interp(yy, DENS_Y, byx[:,i]) for i in range(len(lx))]).T
    cm = LinearColorMapper(palette=PALETTE, low=0.006, high=1, low_color="#ffffff00")
    p.image(image=[grid], x=10**DENS_LOGX[0], y=DENS_Y[0], dw=10**DENS_LOGX[-1]-10**DENS_LOGX[0],
            dh=DENS_Y[-1]-DENS_Y[0], color_mapper=cm)

def dots(p, pts, color, size=2.5):
    lx = np.array([a for a, b in pts]); yv = np.array([b for a, b in pts])
    p.scatter(10**lx, yv, size=size, marker="circle", fill_color=color, line_color=None)

def panel_scatter(canvas, frame, xr, yr, dens, dens_scale, blue, blue_color, title, title_size, red=None, black=None, y_ticks=True):
    p = make_fig(canvas, frame, xr, yr, logx=True)
    p.outline_line_color = "#9a9a9a"; p.outline_line_width = 1.5
    dots(p, blue, blue_color)
    density(p, dens, dens_scale)
    if red: dots(p, red, "#e8141c", 2.8)
    if black: dots(p, black, "#111111", 2.8)
    for v in FC_CUT:
        p.add_layout(Span(location=v, dimension="width", line_color="#666666", line_width=1, line_dash="3 2"))
    for v in WINDOWS:
        p.add_layout(Span(location=v, dimension="height", line_color="#555555", line_width=1.2, line_dash="2 2"))
    p.add_layout(Label(x=title[0], y=title[1], text=title[2], text_font=FONT, text_font_size=f"{title_size}px",
                       text_font_style="bold", text_color="#111111", text_align="center", text_baseline="middle"))
    xa, ya = p.xaxis[0], p.yaxis[0]
    xa.ticker = FixedTicker(ticks=DIST_TICKS, minor_ticks=[])
    xa.major_label_overrides = {t: "" for t in DIST_TICKS}
    xa.major_label_standoff = 0
    xa.axis_line_color = None; xa.major_tick_line_color = "#888888"; xa.major_tick_out = 3; xa.major_tick_in = 0
    xa.minor_tick_line_color = None
    ya.ticker = FixedTicker(ticks=LOGFC_TICKS)
    ya.axis_line_color = None; ya.minor_tick_line_color = None; ya.major_tick_in = 0
    ya.major_label_overrides = {t: "" for t in LOGFC_TICKS}
    ya.major_label_standoff = 0
    ya.major_tick_line_color = "#888888" if y_ticks else None
    ya.major_tick_out = 3 if y_ticks else 0
    return p

def yticklabels(s, right, frame_top, frame_bottom, yr, size=14.5):
    for v in LOGFC_TICKS:
        py = frame_top + (yr[1]-v)/(yr[1]-yr[0])*(frame_bottom-frame_top)
        txt(s, right, py, str(v), size, color="#222222", align="right")

def xticklabels(s, centres, y, size=11.6):
    for t, cx in zip(DIST_LABELS, centres):
        txt(s, cx, y, t, size, color="#222222")

def marked(s, cx1, cx2, y1, y2):
    for cx, col, word in ((cx1, "#f0202a", "IMM"), (cx2, "#1f5fbf", "MAT")):
        txt(s, cx, y1, "Marked in", 15, color=col)
        txt(s, cx, y2, word, 15, color=col)

# ---- panel a
a0 = strip(0,0,230,30)
txt(a0, 30, 11, "a", 24, color="#000000", bold=True)
a_left = strip(0,30,33,480)
ROT = dict(color="#222222", angle=np.pi/2)
txt(a_left, 9, 115, "# of nucleosome paris", 15.5, **ROT)
txt(a_left, 25, 115, "w/ FLI1 binding", 15.5, **ROT)
txt(a_left, 9, 336, "# of nucleosome paris", 15.5, **ROT)
txt(a_left, 25, 336, "w/ RUNX1 binding", 15.5, **ROT)

a1 = strip(33,30,230,53); txt(a1, 132, 43, "FLI1", 14, bold=True)
a_top = panel_a((33,53,230,192), (55,54,208,175), FLI1_PAIRS, (0,350), [50,100,150,200,250,300,350])
a2 = strip(33,192,230,283); marked(a2, 84, 180, 204, 222); txt(a2, 132, 275, "RUNX1", 14, bold=True)
a_bot = panel_a((33,283,230,421), (59,284,211,406), RUNX1_PAIRS, (0,50), [10,20,30,40,50])
a3 = strip(33,421,230,480); marked(a3, 88, 184, 433, 452)

# ---- the shared y title of panels b
b_left = strip(230,0,247,480)
YL = dict(color="#222222", align="left", angle=np.pi/2)
txt(b_left, 238, 418, "Differential gene expression", 15.5, **YL)
txt(b_left, 238, 229, "(log", 15.5, **YL)
txt(b_left, 241.5, 205, "2", 9.5, **YL)
txt(b_left, 238, 198, "ratio) in MK", 15.5, **YL)
txt(b_left, 241.5, 116, "MAT", 9.5, **YL)
txt(b_left, 238, 94, "vs MK", 15.5, **YL)
txt(b_left, 241.5, 49, "IMM", 9.5, **YL)

# ---- panel b
FR_BT = (275,32,525,198); YR_BT = (-5.33,6.96)
FR_BB = (276,252,525,414); YR_BB = (-5.29,7.06)
b1 = strip(247,0,530,31); txt(b1, 257, 10, "b", 24, color="#000000", bold=True)
yl_t = strip(247,31,270,202); yticklabels(yl_t, 258, FR_BT[1], FR_BT[3], YR_BT, size=14)
bt = panel_scatter((270,31,530,202), FR_BT, (72,6.7e5), YR_BT, FLI1_DENS, 1.0, FLI1_BLUE+FLI1_BLUE_MORE, "#7dbde0",
                   (3.1e5,6.0,"FLI1"), 14, y_ticks=False)
b2 = strip(247,202,530,251); xticklabels(b2, [292,353,418,484,527], 215)
yl_b = strip(247,251,270,418); yticklabels(yl_b, 265, FR_BB[1], FR_BB[3], YR_BB)
bb = panel_scatter((270,251,530,418), FR_BB, (72,6.7e5), YR_BB, RUNX1_DENS, 1.0, RUNX1_BLUE+RUNX1_BLUE_MORE, "#7dbde0",
                   (1.9e5,6.0,"RUNX1"), 14.5, y_ticks=False)
b3 = strip(247,418,530,480); xticklabels(b3, [288,350,412,475,522], 429)
txt(b3, 270, 429, "5", 11.6, color="#222222")
txt(b3, 398, 451, "Distance (bp) to the nearest TF sites", 15, color="#222222")

# ---- panel c
c1 = strip(530,0,787,31); txt(c1, 533, 15, "c", 24, color="#000000", bold=True)
ct = panel_scatter((530,31,787,202), (536,32,775,198), (70.6,7.2e5), YR_BT, FLI1_DENS, 0.8, FLI1_BLUE+FLI1_BLUE_MORE, "#a3cfe6",
                   (2.7e5,6.1,"FLI1"), 15, FLI1_RED, FLI1_BLACK)
c2 = strip(530,202,787,251); xticklabels(c2, [552,606,665,730,772], 215)
cb = panel_scatter((530,251,787,420), (535,252,774,416), (70.6,7.2e5), YR_BB, RUNX1_DENS, 0.8, RUNX1_BLUE+RUNX1_BLUE_MORE, "#a3cfe6",
                   (1.7e5,6.0,"RUNX1"), 15, RUNX1_RED, RUNX1_BLACK)
c3 = strip(530,420,787,480); xticklabels(c3, [548,605,667,728,768], 429)
txt(c3, 551, 450, "Distance (bp) to the nearest TF sites", 15, color="#222222", align="left")

# ---- panel d
td = strip(430,480,787,648)
GRID_X = [447,548,663,779]; GRID_Y = [523,553,584,615,646]
td.segment(GRID_X, [GRID_Y[0]]*4, GRID_X, [GRID_Y[-1]]*4, line_color="#111111", line_width=1.5)
td.segment([GRID_X[0]]*5, GRID_Y, [GRID_X[-1]]*5, GRID_Y, line_color="#111111", line_width=1.5)
ROW_Y = [538,568.5,600,630.5]
for yy, name in zip(ROW_Y, [TABLE_HEAD[0]]+TF_NAMES):
    txt(td, 458, yy, name, 16, align="left")
txt(td, 606, ROW_Y[0], TABLE_HEAD[1], 16); txt(td, 721, ROW_Y[0], TABLE_HEAD[2], 16)
for yy, a, b in zip(ROW_Y[1:], WITHIN_20KB, WITHIN_50KB):
    txt(td, 608, yy, a, 16); txt(td, 725, yy, b, 16)
txt(td, 629, 505, "NF-E2-dependent genes", 21)
txt(td, 465, 490, "d", 22, color="#000000", bold=True)

col_a = column(a0, row(a_left, column(a1, a_top, a2, a_bot, a3)))
col_b = column(b1, row(yl_t, bt), b2, row(yl_b, bb), b3)
col_c = column(c1, ct, c2, cb, c3)
root = column(
    row(col_a, b_left, col_b, col_c),
    row(Spacer(width=430, height=168), td),
)
open("out.html", "w").write(file_html(root, INLINE))
